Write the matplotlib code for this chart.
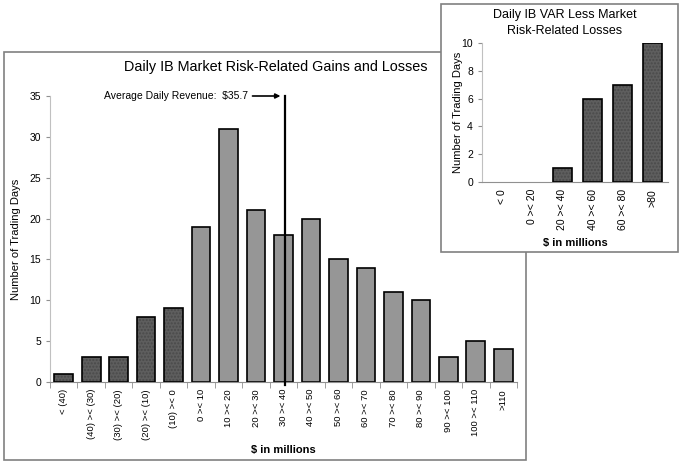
import matplotlib.pyplot as plt
import numpy as np
from matplotlib.patches import Rectangle

plt.rcParams['font.family'] = ['Liberation Sans', 'DejaVu Sans']

# main histogram
main_labels = ['< (40)', '(40) >< (30)', '(30) >< (20)', '(20) >< (10)', '(10) >< 0',
               '0 >< 10', '10 >< 20', '20 >< 30', '30 >< 40', '40 >< 50', '50 >< 60',
               '60 >< 70', '70 >< 80', '80 >< 90', '90 >< 100', '100 >< 110', '>110']
main_days = [1, 3, 3, 8, 9, 19, 31, 21, 18, 20, 15, 14, 11, 10, 3, 5, 4]
n_loss = 5
avg_revenue = 35.7

# inset histogram
var_labels = ['< 0', '0 >< 20', '20 >< 40', '40 >< 60', '60 >< 80', '>80']
var_days = [0, 0, 1, 6, 7, 10]

W, H = 680, 465
fig = plt.figure(figsize=(6.8, 4.65), dpi=100)

def box(x0, y0, x1, y1, z):
    # rectangle in pixel coords (top-left origin)
    r = Rectangle((x0 / W, 1 - y1 / H), (x1 - x0) / W, (y1 - y0) / H,
                  transform=fig.transFigure, facecolor='white',
                  edgecolor='#808080', lw=1.2, zorder=z)
    fig.add_artist(r)

def pax(x0, y0, x1, y1):
    return fig.add_axes([x0 / W, 1 - y1 / H, (x1 - x0) / W, (y1 - y0) / H])

def dark_bars(ax, x, h, w):
    x = np.asarray(x)
    h = np.asarray(h)
    keep = h > 0
    ax.bar(x[keep], h[keep], w, color='#5e5e5e', hatch='.....', edgecolor='#4a4a4a', lw=0, zorder=2)
    ax.bar(x[keep], h[keep], w, fill=False, edgecolor='black', lw=1.2, zorder=3)

def style(ax, n, fs):
    for s in ['top', 'right']:
        ax.spines[s].set_visible(False)
    ax.spines['left'].set_color('#c0c0c0')
    ax.spines['bottom'].set_color('#909090')
    ax.tick_params(axis='y', colors='#909090', labelcolor='black', length=3, labelsize=7.5)
    ax.set_xticks(np.arange(n))
    ax.set_xticks(np.arange(n + 1) - 0.5, minor=True)
    ax.tick_params(axis='x', which='major', length=0, labelsize=fs, pad=5)
    ax.tick_params(axis='x', which='minor', length=4, colors='#909090', direction='out')
    ax.set_facecolor('none')

box(4, 52, 526, 460, 0)
box(441, 4, 678, 252, 5)

# ---- main chart
ax = pax(50, 96, 517, 382)
ax.set_zorder(1)
x = np.arange(len(main_days))
dark_bars(ax, x[:n_loss], main_days[:n_loss], 0.68)
ax.bar(x[n_loss:], main_days[n_loss:], 0.68, color='#969696', edgecolor='black', lw=1.2, zorder=2)
ax.set_xlim(-0.5, len(main_days) - 0.5)
ax.set_ylim(0, 35)
ax.set_yticks(range(0, 36, 5))
style(ax, len(main_days), 6.8)
ax.set_xticklabels(main_labels, rotation=90)
ax.set_xlabel('$ in millions', fontsize=8, fontweight='bold', labelpad=4)
ax.set_ylabel('Number of Trading Days', fontsize=8, labelpad=6)

avg_x = 8 + (avg_revenue - 35) / 10
ax.plot([avg_x, avg_x], [-0.4, 35], color='black', lw=1.6, clip_on=False, zorder=4)
ax.annotate('', xy=(avg_x - 0.08, 35), xytext=(avg_x - 1.3, 35),
            arrowprops=dict(arrowstyle='-|>', color='black', lw=1.2, mutation_scale=7))
ax.text(avg_x - 1.38, 35, 'Average Daily Revenue:  $35.7', ha='right', va='center', fontsize=7.5)

fig.text(276 / W, 1 - 67 / H, 'Daily IB Market Risk-Related Gains and Losses',
         ha='center', va='center', fontsize=10.4)

# ---- inset chart
ax2 = pax(482, 43, 668, 182)
ax2.set_zorder(6)
x2 = np.arange(len(var_days))
dark_bars(ax2, x2, var_days, 0.63)
ax2.set_xlim(-0.67, len(var_days) - 0.5)
ax2.set_ylim(0, 10)
ax2.set_yticks(range(0, 11, 2))
style(ax2, len(var_days), 7.5)
ax2.tick_params(axis='x', which='minor', length=0)
ax2.set_xticklabels(var_labels, rotation=90)
ax2.set_xlabel('$ in millions', fontsize=8, fontweight='bold', labelpad=6)
ax2.set_ylabel('Number of Trading Days', fontsize=8, labelpad=-1)
fig.text(565 / W, 1 - 23 / H, 'Daily IB VAR Less Market\nRisk-Related Losses',
         ha='center', va='center', fontsize=9, linespacing=1.5, zorder=7)

fig.savefig('out.png', dpi=100)
